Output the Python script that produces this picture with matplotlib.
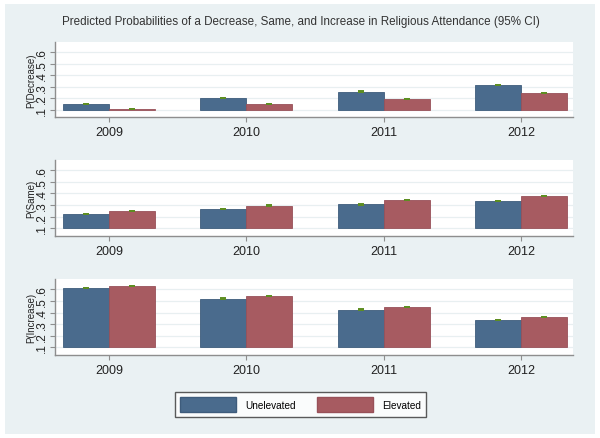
import numpy as np
import matplotlib.pyplot as plt
from matplotlib.patches import Rectangle, Patch

plt.rcParams['font.family'] = ['Liberation Sans', 'DejaVu Sans']

# data
years = ['2009', '2010', '2011', '2012']
outcomes = ['P(Decrease)', 'P(Same)', 'P(Increase)']
unelevated = [
    [0.149, 0.200, 0.258, 0.315],
    [0.224, 0.266, 0.305, 0.337],
    [0.609, 0.520, 0.426, 0.337],
]
elevated = [
    [0.109, 0.150, 0.195, 0.247],
    [0.250, 0.296, 0.344, 0.380],
    [0.626, 0.540, 0.446, 0.360],
]
ci_unelevated = [
    [0.0015, 0.0015, 0.0015, 0.0015],
    [0.0015, 0.0015, 0.0015, 0.0015],
    [0.0015, 0.0015, 0.0015, 0.0015],
]
ci_elevated = [
    [0.0015, 0.0015, 0.0015, 0.0015],
    [0.0015, 0.0015, 0.0015, 0.0015],
    [0.0015, 0.0015, 0.0015, 0.0015],
]
yticks = [0.1, 0.2, 0.3, 0.4, 0.5, 0.6]
ytick_labels = ['.1', '.2', '.3', '.4', '.5', '.6']
title = 'Predicted Probabilities of a Decrease, Same, and Increase in Religious Attendance (95% CI)'

blue = '#4A6B8D'
red = '#A75B61'
green = '#5E8E22'
bg = '#EAF1F3'
axis_gray = '#8E8E8E'
base = 0.1
W, H = 600, 439

fig = plt.figure(figsize=(W / 100, H / 100), dpi=100)
fig.patch.set_facecolor('white')
fig.patches.append(Rectangle((5 / W, 4 / H), 590 / W, 430 / H, transform=fig.transFigure,
                             facecolor=bg, edgecolor='none', zorder=-10))

fig.text(62 / W, 1 - 22 / H, title, fontsize=8.4, color='#333333', ha='left', va='center')

# panel boxes in pixels: (top of plot region, axis line)
panels = [(43, 118), (160.7, 236.7), (280, 355.7)]
x = np.arange(1, len(years) + 1)
w = 0.335

for i, (top, bottom) in enumerate(panels):
    ax = fig.add_axes([55 / W, 1 - bottom / H, (573 - 55) / W, (bottom - top) / H])
    ax.set_facecolor('white')
    u = np.array(unelevated[i])
    e = np.array(elevated[i])
    ax.bar(x - w / 2, u - base, w, bottom=base, color=blue, edgecolor='#3E5C7C', linewidth=0.6, zorder=3)
    ax.bar(x + w / 2, e - base, w, bottom=base, color=red, edgecolor='#985159', linewidth=0.6, zorder=3)
    ax.errorbar(x - w / 2, u, yerr=ci_unelevated[i], fmt='none', ecolor=green, elinewidth=0.8,
                capsize=2.5, capthick=1.4, zorder=4)
    ax.errorbar(x + w / 2, e, yerr=ci_elevated[i], fmt='none', ecolor=green, elinewidth=0.8,
                capsize=2.5, capthick=1.4, zorder=4)
    ax.set_xlim(0.607, 4.38)
    ax.set_ylim(0.038, 0.688)
    ax.set_yticks(yticks)
    ax.set_yticklabels(ytick_labels, rotation=90, va='center', fontsize=8.5)
    ax.set_xticks(x)
    ax.set_xticklabels(years, fontsize=9)
    ax.yaxis.grid(True, color='#E8EFF1', linewidth=0.9, zorder=0)
    ax.set_axisbelow(True)
    for s in ['top', 'right']:
        ax.spines[s].set_visible(False)
    for s in ['left', 'bottom']:
        ax.spines[s].set_color(axis_gray)
        ax.spines[s].set_linewidth(1.0)
    ax.tick_params(axis='both', colors=axis_gray, length=3.5, width=0.8, pad=1.5)
    ax.tick_params(axis='both', labelcolor='#222222')
    ax.tick_params(axis='x', pad=3)
    ax.set_ylabel(outcomes[i], fontsize=7, color='#222222', labelpad=0)

handles = [Patch(facecolor=blue, edgecolor='#3E5C7C', label='Unelevated'),
           Patch(facecolor=red, edgecolor='#985159', label='Elevated')]
leg = fig.legend(handles=handles, loc='center', bbox_to_anchor=(300.5 / W, 1 - 405.5 / H), ncol=2,
                 fontsize=7.2, frameon=True, fancybox=False, handlelength=5.6, handleheight=1.9,
                 handletextpad=0.9, columnspacing=2.2, borderpad=0.5, borderaxespad=0)
leg.get_frame().set_edgecolor('#333333')
leg.get_frame().set_linewidth(1.0)

fig.savefig('out.png', dpi=100, facecolor=fig.get_facecolor())
